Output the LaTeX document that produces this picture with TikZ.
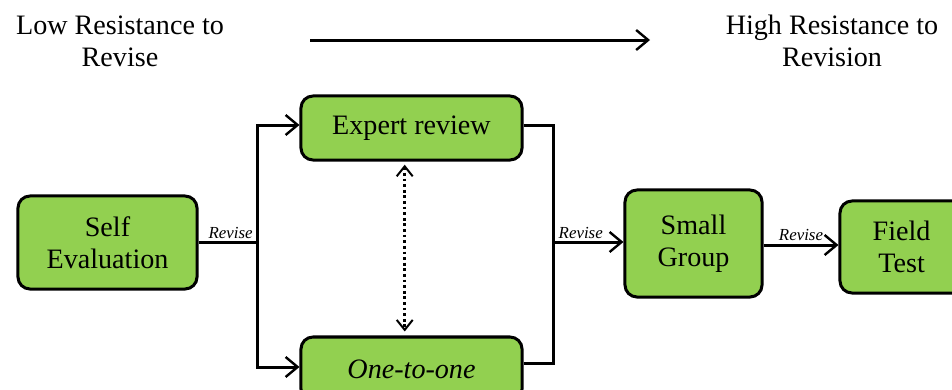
\documentclass[tikz,border=0pt]{standalone}
\usepackage{fontspec}
\setmainfont{Liberation Serif}
\usetikzlibrary{arrows.meta,positioning}

\definecolor{boxgreen}{RGB}{146,208,80}

\tikzset{
    stage/.style={draw=black,fill=boxgreen,line width=0.075cm,rounded corners=0.3cm,
        align=center,inner sep=0pt,font=\fontsize{20}{23}\selectfont},
    flow/.style={line width=0.075cm,-{Straight Barb[length=0.3cm,width=0.5cm,line width=0.06cm]}},
    revise/.style={font=\fontsize{12}{14}\selectfont\itshape,inner sep=1pt}
}

\begin{document}
\begin{tikzpicture}[x=0.025cm,y=-0.025cm]

    \clip (0,0) rectangle (952,389);

    % Resistance scale
    \node [align=center,font=\fontsize{20}{23}\selectfont] (low) at (120,41) {Low Resistance to\\Revise};
    \node [align=center,font=\fontsize{20}{23}\selectfont] (high) at (832,41) {High Resistance to\\Revision};
    \coordinate (scalestart) at (310,40);
    \coordinate (scaleend) at (650,40);
    \draw [flow] (scalestart) -- (scaleend);

    % Stages
    \node [stage,minimum width=4.475cm,minimum height=2.325cm] (self) at (107.5,242.5) {Self\\Evaluation};
    \node [stage,minimum width=5.525cm,minimum height=1.6cm] (expert) at (411.5,128) {Expert review};
    \node [stage,minimum width=5.525cm,minimum height=1.6cm] (one) at (411.5,369) {\itshape One-to-one};
    \node [stage,minimum width=3.425cm,minimum height=2.675cm] (small) at (693.5,243.5) {Small\\Group};
    \node [stage,minimum width=3.2cm,minimum height=2.3cm] (field) at (904,247) {\hspace*{-0.12cm}Field\\\hspace*{-0.12cm}Test};

    % Split after self evaluation
    \coordinate (split) at (257,242);
    \draw [line width=0.075cm] (self.east |- split) -- (split)
        node [revise,above left,pos=1,xshift=-1pt] {Revise};
    \draw [flow] (split) |- ([yshift=0.075cm]expert.west);
    \draw [flow] (split) |- ([yshift=0.05cm]one.west);

    % Join before small group
    \coordinate (join) at (553,242);
    \draw [line width=0.075cm] ([yshift=0.075cm]expert.east) -| (join);
    \draw [line width=0.075cm] ([yshift=0.15cm]one.east) -| (join);
    \draw [flow] (join) -- (small.west |- join)
        node [revise,above right,pos=0,xshift=2pt] {Revise};

    % Small group to field test
    \coordinate (fieldlevel) at (800,245);
    \draw [flow] (small.east |- fieldlevel) -- (field.west |- fieldlevel)
        node [revise,above,midway,yshift=1pt] {Revise};

    % Between expert review and one-to-one
    \draw [line width=0.07cm,dotted,{Straight Barb[length=0.25cm,width=0.4cm,line width=0.05cm]}-{Straight Barb[length=0.25cm,width=0.4cm,line width=0.05cm]}]
        ([xshift=-0.17cm,yshift=-0.08cm]expert.south) -- ([xshift=-0.17cm,yshift=0.1cm]one.north);

\end{tikzpicture}
\end{document}
